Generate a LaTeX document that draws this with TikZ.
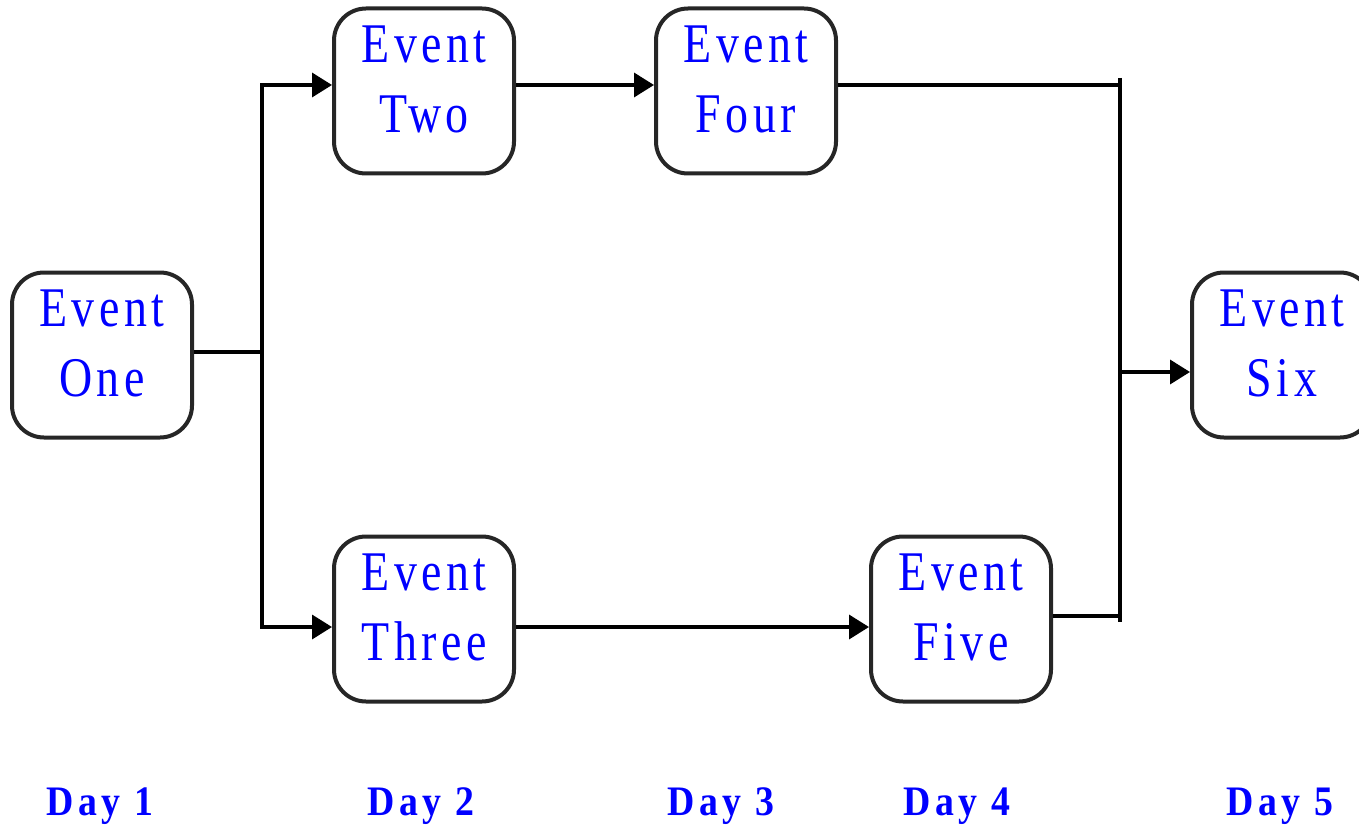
\documentclass[tikz,border=0pt]{standalone}
\usepackage{fontspec}
\setmainfont{Liberation Serif}
\usetikzlibrary{arrows.meta}
\definecolor{evblue}{RGB}{0,0,255}
\begin{document}
\begin{tikzpicture}[x=1pt,y=-1pt,
  eventbox/.style={draw=black!85, line width=4pt, rounded corners=32pt,
    minimum width=180pt, minimum height=165pt, inner sep=0pt},
  evtext/.style={text=evblue, align=center, inner sep=0pt,
    font=\fontsize{56}{70}\selectfont\addfontfeatures{FakeStretch=0.82,LetterSpace=8}},
  daylabel/.style={text=evblue, font=\fontsize{42}{50}\selectfont\bfseries\addfontfeatures{FakeStretch=0.9,LetterSpace=10}},
  conn/.style={line width=3.5pt},
  arr/.style={conn, -{Triangle[length=20pt,width=24pt]}}]
\useasboundingbox (0,0) rectangle (1359,829);
\begin{scope}
\clip (0,0) rectangle (1359,829);
\node[eventbox] (one)   at (102,355) {};
\node[eventbox] (two)   at (424,91)  {};
\node[eventbox] (four)  at (746,91)  {};
\node[eventbox] (three) at (424,619) {};
\node[eventbox] (five)  at (961,619) {};
\node[eventbox] (six)   at (1282,355) {};
\end{scope}
\node[evtext] (t1) at ([yshift=12pt]one.center) {Event\\One};
\node[evtext] (t2) at ([yshift=12pt]two.center) {Event\\Two};
\node[evtext] (t4) at ([yshift=12pt]four.center) {Event\\Four};
\node[evtext] (t3) at ([yshift=12pt]three.center) {Event\\Three};
\node[evtext] (t5) at ([yshift=12pt]five.center) {Event\\Five};
\node[evtext] (t6) at ([yshift=12pt]six.center) {Event\\Six};
\coordinate (jl) at (262,352);
\coordinate (jlt) at (262,85);
\coordinate (jlb) at (262,627);
\coordinate (jrt) at (1120,85);
\coordinate (jrb) at (1120,616);
\coordinate (jrtop) at (1120,78);
\coordinate (jrbot) at (1120,622);
\coordinate (jr) at (1120,372);
\draw[conn] (one.east |- jl) -- (jl);
\draw[conn] ([yshift=1.75pt]jlt) -- ([yshift=-1.75pt]jlb);
\draw[arr] (jlt) -- (two.west |- jlt);
\draw[arr] (jlb) -- (three.west |- jlb);
\draw[arr] (two.east |- jlt) -- (four.west |- jlt);
\draw[arr] (three.east |- jlb) -- (five.west |- jlb);
\draw[conn] (four.east |- jrt) -- (jrt);
\draw[conn] (five.east |- jrb) -- (jrb);
\draw[conn] (jrtop) -- (jrbot);
\draw[arr] (jr) -- (six.west |- jr);
\node[daylabel] (d1) at (100,806) {Day 1};
\node[daylabel] (d2) at (421,806) {Day 2};
\node[daylabel] (d3) at (721,806) {Day 3};
\node[daylabel] (d4) at (957,806) {Day 4};
\node[daylabel] (d5) at (1280,806) {Day 5};
\end{tikzpicture}
\end{document}
